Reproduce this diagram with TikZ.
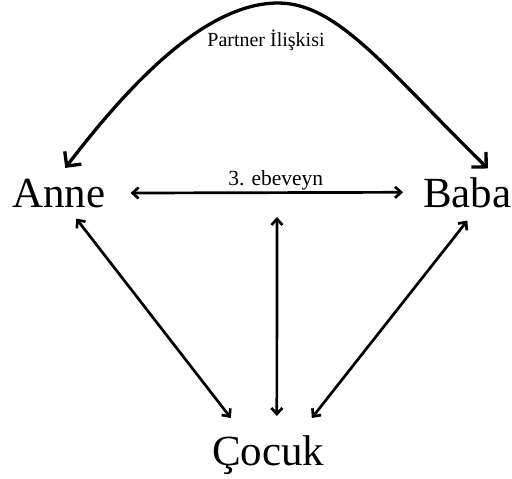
\documentclass[tikz,border=0pt]{standalone}
\usepackage{fontspec}
\setmainfont{Liberation Serif}
\usetikzlibrary{arrows.meta}

\tikzset{
  person/.style={inner sep=0pt, anchor=base west, font=\fontsize{43}{50}\selectfont},
  smalllabel/.style={inner sep=0pt, anchor=base, font=\fontsize{20}{24}\selectfont},
  midlabel/.style={inner sep=0pt, anchor=base, font=\fontsize{21.5}{26}\selectfont},
  bond/.style={line width=2.7pt, {Straight Barb[length=6pt,width=11pt]}-{Straight Barb[length=6pt,width=11pt]}},
  partner/.style={line width=3.3pt, {Straight Barb[length=10.5pt,width=21pt]}-{Straight Barb[length=10.5pt,width=21pt]}}
}

\begin{document}
\begin{tikzpicture}[x=1pt,y=-1pt]
  \useasboundingbox (0,0) rectangle (512,479);

  % family members
  \node[person] (anne)  at (12,207)  {Anne};
  \node[person] (baba)  at (423,207) {Baba};
  \node[person] (cocuk) at (212,465) {Çocuk};

  % partner relationship arc over the top
  \coordinate (apex) at (278,3);
  \node[smalllabel] (plabel) at (266,46) {Partner İlişkisi};
  \draw[partner]
    ([shift={(6.5,-10.5)}]anne.north)
      .. controls (125,90) and (203,3) .. (apex)
      .. controls (338,3) and (387,70) ..
    ([shift={(20.5,-8.5)}]baba.north);

  % third parent link between the partners
  \draw[bond] ([shift={(25,0)}]anne.east) -- ([shift={(-20,0)}]baba.west)
    node[midlabel, pos=0.533, yshift=7pt] {3. ebeveyn};

  % links to the child
  \coordinate (third) at (277,217);
  \draw[bond] (third) -- ([shift={(8.5,-19)}]cocuk.north);
  \draw[bond] ([shift={(17.5,11)}]anne.south) -- ([shift={(-37.5,-17)}]cocuk.north);
  \draw[bond] ([shift={(0,13)}]baba.south) -- ([shift={(43.5,-17)}]cocuk.north);
\end{tikzpicture}
\end{document}
